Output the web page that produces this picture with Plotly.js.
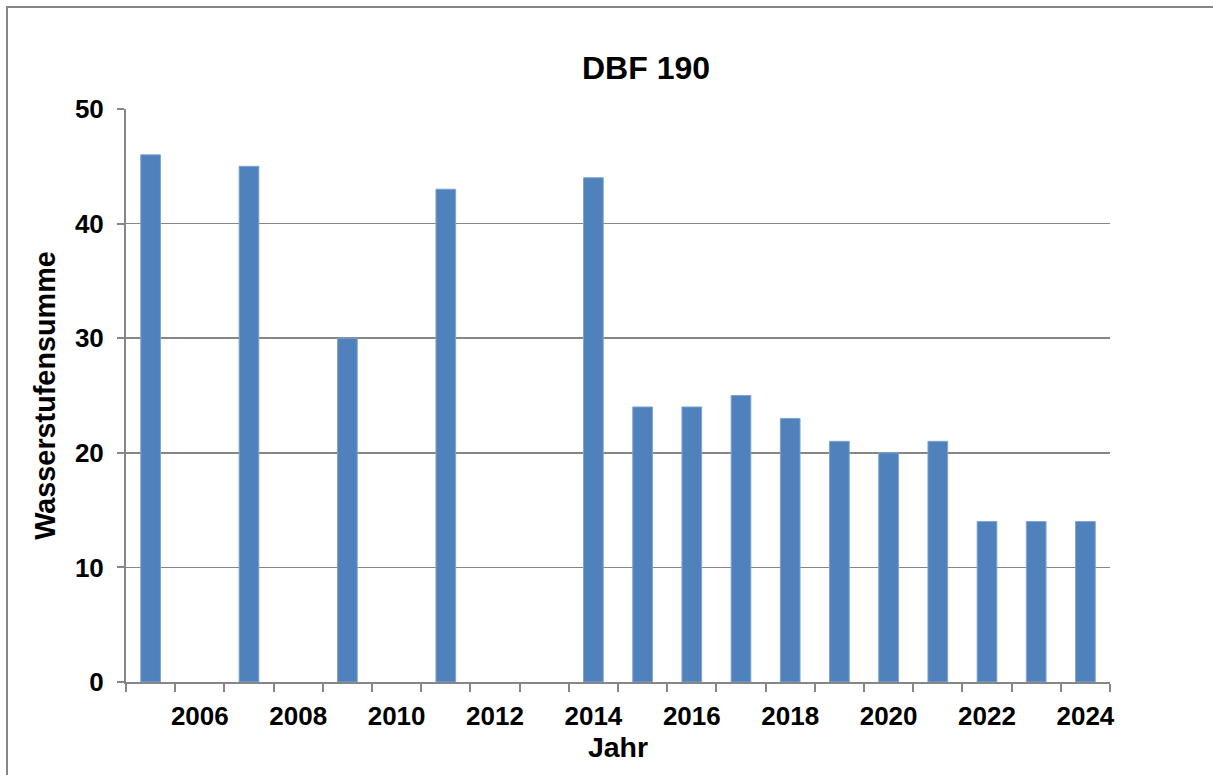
<!DOCTYPE html>
<html>
<head>
<meta charset="utf-8">
<script src="https://cdn.plot.ly/plotly-3.0.1.min.js"></script>
<style>
html,body{margin:0;padding:0;background:#fff;}
#chart{width:1213px;height:775px;}
</style>
</head>
<body>
<div id="chart"></div>
<script>
const years = [2005,2006,2007,2008,2009,2010,2011,2012,2013,2014,2015,2016,2017,2018,2019,2020,2021,2022,2023,2024];
const values = [46,null,45,null,30,null,43,null,null,44,24,24,25,23,21,20,21,14,14,14];
const tickYears = [2006,2008,2010,2012,2014,2016,2018,2020,2022,2024];
const tickLabels = ["2006","2008","2010","2012","2014","2016","2018","2020","2022","2024"];
const yTicks = [0,10,20,30,40,50];

const W = 1213, H = 775;
const L = 126, R = 1110, T = 109, B = 682;
const gray = '#868686';
const fontFam = 'Liberation Sans, Arial, sans-serif';

const trace = {
  type: 'bar',
  x: years,
  y: values,
  width: 0.4,
  marker: {color: '#4F81BD', line: {color: '#7FA3D0', width: 1}},
  hoverinfo: 'x+y'
};

const layout = {
  width: W, height: H,
  margin: {l: L, r: W - R, t: T, b: H - B, pad: 0},
  paper_bgcolor: '#ffffff',
  plot_bgcolor: '#ffffff',
  showlegend: false,
  title: {
    text: '<b>DBF 190</b>',
    font: {family: fontFam, size: 32, color: '#000'},
    x: 646 / W, xanchor: 'center', xref: 'container',
    y: 1 - 68 / H, yanchor: 'middle', yref: 'container'
  },
  xaxis: {
    type: 'linear',
    range: [2004.5, 2024.5],
    tickmode: 'array',
    tickvals: tickYears,
    ticktext: tickLabels,
    ticks: '',
    showgrid: false,
    zeroline: false,
    showline: true,
    linecolor: gray,
    linewidth: 2,
    tickfont: {family: fontFam, size: 26, color: '#000', weight: 'bold'},
    ticklabelstandoff: 10,
    minor: {
      tickmode: 'linear',
      tick0: 2004.5,
      dtick: 1,
      ticks: 'outside',
      ticklen: 8,
      tickwidth: 2,
      tickcolor: gray,
      showgrid: false
    },
    title: {
      text: '<b>Jahr</b>',
      font: {family: fontFam, size: 28.5, color: '#000'},
      standoff: 5
    }
  },
  yaxis: {
    range: [0, 50],
    tickmode: 'array',
    tickvals: yTicks,
    ticktext: yTicks.map(String),
    ticks: 'outside',
    ticklen: 7,
    tickwidth: 2,
    tickcolor: gray,
    showgrid: true,
    gridcolor: gray,
    gridwidth: 1.6,
    zeroline: false,
    showline: true,
    linecolor: gray,
    linewidth: 2,
    tickfont: {family: fontFam, size: 26, color: '#000', weight: 'bold'},
    ticklabelstandoff: 8,
    title: {
      text: '<b>Wasserstufensumme</b>',
      font: {family: fontFam, size: 28.8, color: '#000'},
      standoff: 11
    }
  },
  shapes: [{
    type: 'rect',
    xref: 'paper', yref: 'paper',
    x0: (7 - L) / (R - L), x1: (1230 - L) / (R - L),
    y0: (B - 800) / (B - T), y1: (B - 7) / (B - T),
    line: {color: '#868686', width: 2},
    fillcolor: 'rgba(0,0,0,0)',
    layer: 'below'
  }]
};

Plotly.newPlot('chart', [trace], layout, {displayModeBar: false, staticPlot: true});
</script>
</body>
</html>
